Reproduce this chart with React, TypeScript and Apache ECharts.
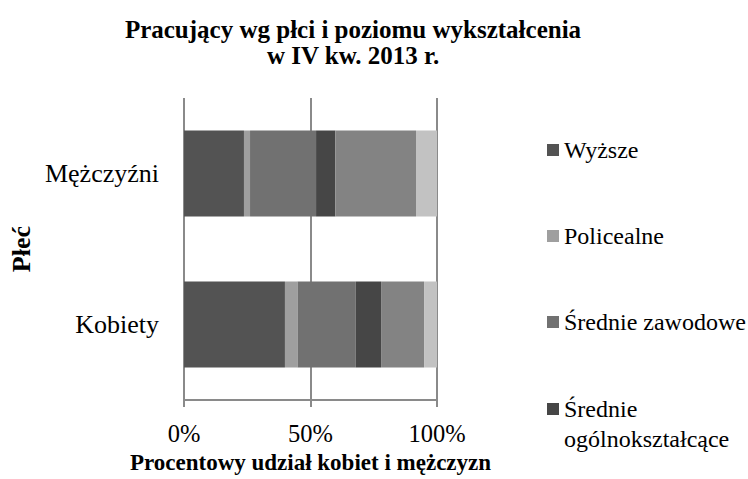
import React, { useEffect, useRef } from "react";
import * as echarts from "echarts";

const categories = ["Mężczyźni", "Kobiety"];
const seriesNames = [
  "Wyższe",
  "Policealne",
  "Średnie zawodowe",
  "Średnie ogólnokształcące",
  "Zasadnicze zawodowe",
  "Gimnazjalne i niższe",
];
const wyzsze = [23.7, 39.9];
const policealne = [2.4, 5.0];
const srednieZawodowe = [26.1, 23.0];
const srednieOgolne = [7.6, 10.0];
const zasadnicze = [31.9, 17.0];
const gimnazjalne = [8.3, 5.1];
const seriesValues = [wyzsze, policealne, srednieZawodowe, srednieOgolne, zasadnicze, gimnazjalne];
const colors = ["#535353", "#9f9f9f", "#717171", "#464646", "#838383", "#c2c2c2"];
const xTicks = { min: 0, max: 100, interval: 50 };

const FONT = "Liberation Serif";

export default function App() {
  const ref = useRef<HTMLDivElement>(null);
  useEffect(() => {
    document.body.style.margin = "0";
    if (!ref.current) return;
    const chart = echarts.init(ref.current, null, { renderer: "svg" });
    const legendText = { fontFamily: FONT, fontSize: 24, color: "#000", lineHeight: 29 };
    chart.setOption({
      animation: false,
      title: {
        text: "Pracujący wg płci i poziomu wykształcenia\nw IV kw. 2013 r.",
        left: 353,
        textAlign: "center",
        top: 16,
        padding: 0,
        textStyle: { fontFamily: FONT, fontSize: 25, fontWeight: "bold", color: "#000", lineHeight: 26 },
      },
      legend: [
        {
          data: seriesNames.slice(0, 3),
          orient: "vertical",
          left: 547,
          top: 135.5,
          padding: 0,
          itemWidth: 12,
          itemHeight: 12,
          itemGap: 57,
          icon: "rect",
          textStyle: legendText,
          selectedMode: false,
        },
        {
          data: [seriesNames[3]],
          orient: "vertical",
          left: 547,
          top: 364,
          padding: 0,
          itemWidth: 12,
          itemHeight: 12,
          icon: "rect",
          formatter: (n: string) => "\n" + n.replace(" ", "\n"),
          textStyle: { ...legendText, lineHeight: 30 },
          selectedMode: false,
        },
      ],
      grid: { left: 184, right: 311, top: 98, bottom: 76, containLabel: false },
      xAxis: {
        type: "value",
        min: xTicks.min,
        max: xTicks.max,
        interval: xTicks.interval,
        name: "Procentowy udział kobiet i mężczyzn",
        nameLocation: "middle",
        nameGap: 50,
        nameTextStyle: { fontFamily: FONT, fontSize: 23, fontWeight: "bold", color: "#000" },
        axisLine: { show: true, lineStyle: { color: "#8a8a8a", width: 2 } },
        axisTick: { show: true, length: 7, lineStyle: { color: "#8a8a8a", width: 2 } },
        axisLabel: {
          formatter: "{value}%",
          fontFamily: FONT,
          fontSize: 24.5,
          color: "#000",
          margin: 21,
        },
        splitLine: { show: true, lineStyle: { color: "#8a8a8a", width: 2 } },
      },
      yAxis: {
        type: "category",
        data: categories,
        inverse: true,
        name: "Płeć",
        nameLocation: "middle",
        nameGap: 150,
        nameTextStyle: { fontFamily: FONT, fontSize: 26, fontWeight: "bold", color: "#000" },
        axisLine: { show: false },
        axisTick: { show: false },
        axisLabel: { fontFamily: FONT, fontSize: 26, color: "#000", margin: 25 },
      },
      series: seriesNames.map((name, i) => ({
        name,
        type: "bar",
        stack: "total",
        barWidth: 86,
        data: seriesValues[i],
        itemStyle: { color: colors[i] },
      })),
    });
    return () => chart.dispose();
  }, []);
  return <div ref={ref} style={{ width: 748, height: 479 }} />;
}
